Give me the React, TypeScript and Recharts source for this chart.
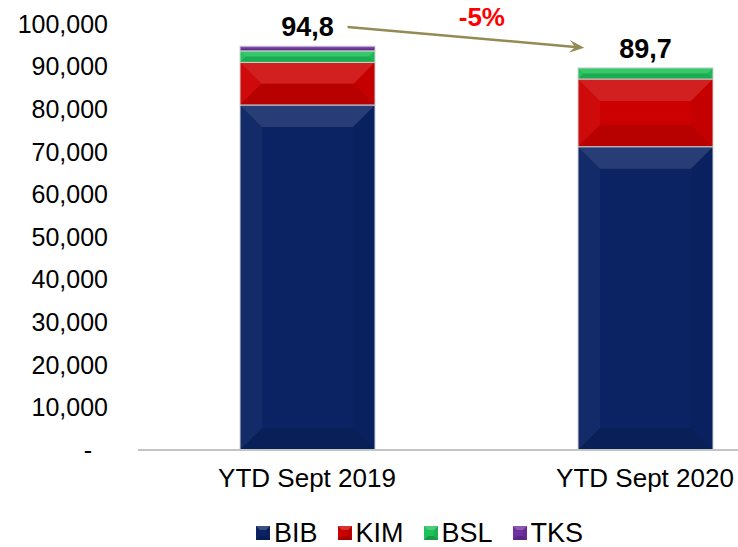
import React from 'react';
import { BarChart, Bar, XAxis, YAxis, Legend, LabelList, ReferenceLine } from 'recharts';

// Categories and series values
const categories = ['YTD Sept 2019', 'YTD Sept 2020'];
const bib = [81000, 71200];
const kim = [10000, 15900];
const bsl = [2700, 2600];
const tks = [1100, 0];
const totalLabels = ['94,8', '89,7'];
const yTicks = [0, 10000, 20000, 30000, 40000, 50000, 60000, 70000, 80000, 90000, 100000];

// Change arrow between the two totals
const arrowFrom = 100100;
const arrowTo = 93200;
const changeLabel = '-5%';

const FONT = '"Liberation Sans", Arial, sans-serif';

const SERIES = [
	{ key: 'BIB', values: bib, color: '#0b2363' },
	{ key: 'KIM', values: kim, color: '#cc0000' },
	{ key: 'BSL', values: bsl, color: '#1ec05a' },
	{ key: 'TKS', values: tks, color: '#7030a0' },
];

const data = categories.map((name, i) => {
	const row: Record<string, any> = { name, total: totalLabels[i] };
	SERIES.forEach((s) => {
		row[s.key] = s.values[i];
	});
	return row;
});

// Bar segment with an Excel-like bevel
const BevelBar = (props: any) => {
	const { x, y, width, height, fill } = props;
	if (!height || height <= 0) return null;
	const b = Math.min(22, height / 2, width / 2);
	const r = x + width;
	const bt = y + height;
	return (
		<g>
			<rect x={x} y={y} width={width} height={height} fill={fill} stroke="#d4d4d4" strokeWidth={1} />
			<polygon points={`${x},${y} ${r},${y} ${r - b},${y + b} ${x + b},${y + b}`} fill="#ffffff" fillOpacity={0.12} />
			<polygon points={`${x},${y} ${x + b},${y + b} ${x + b},${bt - b} ${x},${bt}`} fill="#ffffff" fillOpacity={0.04} />
			<polygon points={`${r},${y} ${r - b},${y + b} ${r - b},${bt - b} ${r},${bt}`} fill="#000000" fillOpacity={0.04} />
			<polygon points={`${x},${bt} ${x + b},${bt - b} ${r - b},${bt - b} ${r},${bt}`} fill="#000000" fillOpacity={0.1} />
		</g>
	);
};

const YTick = (props: any) => {
	const { x, y, payload } = props;
	const v = payload.value;
	const label = v === 0 ? '-' : v.toLocaleString('en-US');
	return (
		<text x={v === 0 ? x - 16 : x} y={y} dy="0.355em" textAnchor="end" fontSize={25} fontFamily={FONT} fill="#000">
			{label}
		</text>
	);
};

const TotalLabel = (props: any) => {
	const { x, y, width, index } = props;
	return (
		<text x={x + width / 2} y={y - 10} textAnchor="middle" fontSize={27} fontWeight="bold" fontFamily={FONT} fill="#000">
			{totalLabels[index]}
		</text>
	);
};

const ChangeArrow = (props: any) => {
	const { x1, y1, x2, y2 } = props;
	const t0 = 0.12;
	const t1 = 0.82;
	const sx = x1 + (x2 - x1) * t0;
	const sy = y1 + (y2 - y1) * t0;
	const ex = x1 + (x2 - x1) * t1;
	const ey = y1 + (y2 - y1) * t1;
	const ang = Math.atan2(ey - sy, ex - sx);
	const len = 15;
	const half = 6.5;
	const bx = ex - len * Math.cos(ang);
	const by = ey - len * Math.sin(ang);
	const nx = -Math.sin(ang);
	const ny = Math.cos(ang);
	const ix = ex - len * 0.6 * Math.cos(ang);
	const iy = ey - len * 0.6 * Math.sin(ang);
	return (
		<g>
			<line x1={sx} y1={sy} x2={ix} y2={iy} stroke="#948a54" strokeWidth={2.5} />
			<polygon
				points={`${ex},${ey} ${bx + nx * half},${by + ny * half} ${ix},${iy} ${bx - nx * half},${by - ny * half}`}
				fill="#948a54"
			/>
			<text
				x={(sx + ex) / 2 + 16}
				y={(sy + ey) / 2 - 11}
				textAnchor="middle"
				fontSize={26}
				fontWeight="bold"
				fontFamily={FONT}
				fill="#ff0000"
			>
				{changeLabel}
			</text>
		</g>
	);
};

const LegendSquare = ({ color }: { color: string }) => (
	<svg width={14} height={14} style={{ marginRight: 4, flex: 'none' }}>
		<rect x={0} y={0} width={14} height={14} fill={color} />
		<polygon points="0,0 14,0 10,4 4,4" fill="#fff" fillOpacity={0.2} />
		<polygon points="0,14 4,10 10,10 14,14" fill="#000" fillOpacity={0.2} />
		<polygon points="14,0 10,4 10,10 14,14" fill="#000" fillOpacity={0.08} />
	</svg>
);

const LegendContent = () => (
	<div
		style={{
			display: 'flex',
			alignItems: 'center',
			height: 32,
			boxSizing: 'border-box',
			paddingTop: 4,
			fontFamily: FONT,
			fontSize: 27,
			lineHeight: '20px',
			color: '#000',
			whiteSpace: 'nowrap',
		}}
	>
		{SERIES.map((s) => (
			<div key={s.key} style={{ display: 'flex', alignItems: 'center', marginRight: 20 }}>
				<LegendSquare color={s.color} />
				<span>{s.key}</span>
			</div>
		))}
	</div>
);

export default function App() {
	return (
		<div style={{ position: 'absolute', left: 0, top: 0, width: 738, height: 547, overflow: 'hidden', background: '#fff' }}>
			<BarChart
				width={820}
				height={547}
				data={data}
				margin={{ top: 24, right: 6, bottom: 0, left: 0 }}
				barSize={135}
			>
				<XAxis
					dataKey="name"
					tickLine={false}
					axisLine={{ stroke: '#c4c4c4', strokeWidth: 2 }}
					tick={{ fontSize: 26, fill: '#000', fontFamily: FONT }}
					tickMargin={13}
					height={65}
					interval={0}
				/>
				<YAxis
					domain={[0, 100000]}
					ticks={yTicks}
					width={138}
					tickLine={false}
					axisLine={false}
					tick={<YTick />}
					tickMargin={24}
					interval={0}
				/>
				{SERIES.map((s, i) => (
					<Bar key={s.key} dataKey={s.key} stackId="a" fill={s.color} shape={<BevelBar />} isAnimationActive={false}>
						{i === SERIES.length - 1 && <LabelList dataKey="total" content={<TotalLabel />} />}
					</Bar>
				))}
				<ReferenceLine
					segment={[
						{ x: categories[0], y: arrowFrom },
						{ x: categories[1], y: arrowTo },
					]}
					ifOverflow="visible"
					shape={<ChangeArrow />}
				/>
				<Legend
					verticalAlign="bottom"
					content={<LegendContent />}
					wrapperStyle={{ left: 256, width: 420 }}
				/>
			</BarChart>
		</div>
	);
}
